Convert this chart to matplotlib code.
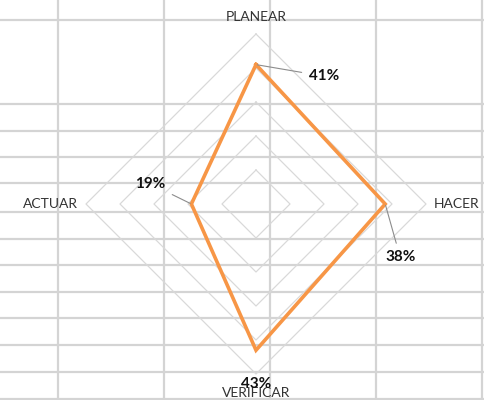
import numpy as np
import matplotlib
matplotlib.use("Agg")
import matplotlib.pyplot as plt
from matplotlib.lines import Line2D

categories = ["PLANEAR", "HACER", "VERIFICAR", "ACTUAR"]
values = [41, 38, 43, 19]
ring_levels = [10, 20, 30, 40, 50]
value_labels = ["41%", "38%", "43%", "19%"]

plt.rcParams['font.family'] = ['Lato', 'DejaVu Sans']

W, H = 484, 400
fig = plt.figure(figsize=(W / 100, H / 100), dpi=100)
fig.patch.set_facecolor("white")

# spreadsheet cell grid behind the chart (pixel positions)
vx = [58, 164, 270, 376, 482]
hy = [20, 104, 131, 157, 183, 212, 239, 265, 292, 318, 345, 372, 399]
for x in vx:
    fig.add_artist(Line2D([x / W, x / W], [0, 1], transform=fig.transFigure,
                          color="#d4d4d4", lw=1.6, zorder=0))
for y in hy:
    fig.add_artist(Line2D([0, 1], [1 - y / H, 1 - y / H], transform=fig.transFigure,
                          color="#d4d4d4", lw=1.6, zorder=0))

scale = 3.4  # px per percent
cx, cy = 256, 204
ax = fig.add_axes([0, 0, 1, 1])
ax.set_xlim(-cx / scale, (W - cx) / scale)
ax.set_ylim(-(H - cy) / scale, cy / scale)
ax.set_facecolor("none")
ax.axis("off")

n = len(categories)
theta = np.arange(n) * 2 * np.pi / n  # clockwise from top
sx, sy = np.sin(theta), np.cos(theta)

for r in ring_levels:
    ax.plot(np.append(r * sx, r * sx[0]), np.append(r * sy, r * sy[0]),
            color="#d9d9d9", lw=0.9, zorder=1)

v = np.array(values, dtype=float)
px, py = v * sx, v * sy
ax.plot(np.append(px, px[0]), np.append(py, py[0]), color="#F79646", lw=2.6,
        zorder=3, solid_joinstyle="miter")

# category labels
lab_kw = dict(fontsize=10, color="#333333")
ax.text(0, 55, categories[0], ha="center", va="center", **lab_kw)
ax.text(52.4, 0, categories[1], ha="left", va="center", **lab_kw)
ax.text(0, -55.6, categories[2], ha="center", va="center", **lab_kw)
ax.text(-52.4, 0, categories[3], ha="right", va="center", **lab_kw)

# data labels
lab_pos = [(19.9, 37.6), (42.4, -15.6), (0, -52.8), (-31.0, 5.9)]
for i, (lbl, pos) in enumerate(zip(value_labels, lab_pos)):
    if i == 2:
        ax.text(pos[0], pos[1], lbl, ha="center", va="center", fontsize=11,
                fontweight="bold", color="#111111", zorder=4)
    else:
        ax.annotate(lbl, xy=(px[i], py[i]), xytext=pos, ha="center", va="center",
                    fontsize=11, fontweight="bold", color="#111111", zorder=4,
                    arrowprops=dict(arrowstyle="-", color="#8c8c8c", lw=0.8,
                                    shrinkA=3, shrinkB=1))

fig.savefig("out.png", dpi=100)
